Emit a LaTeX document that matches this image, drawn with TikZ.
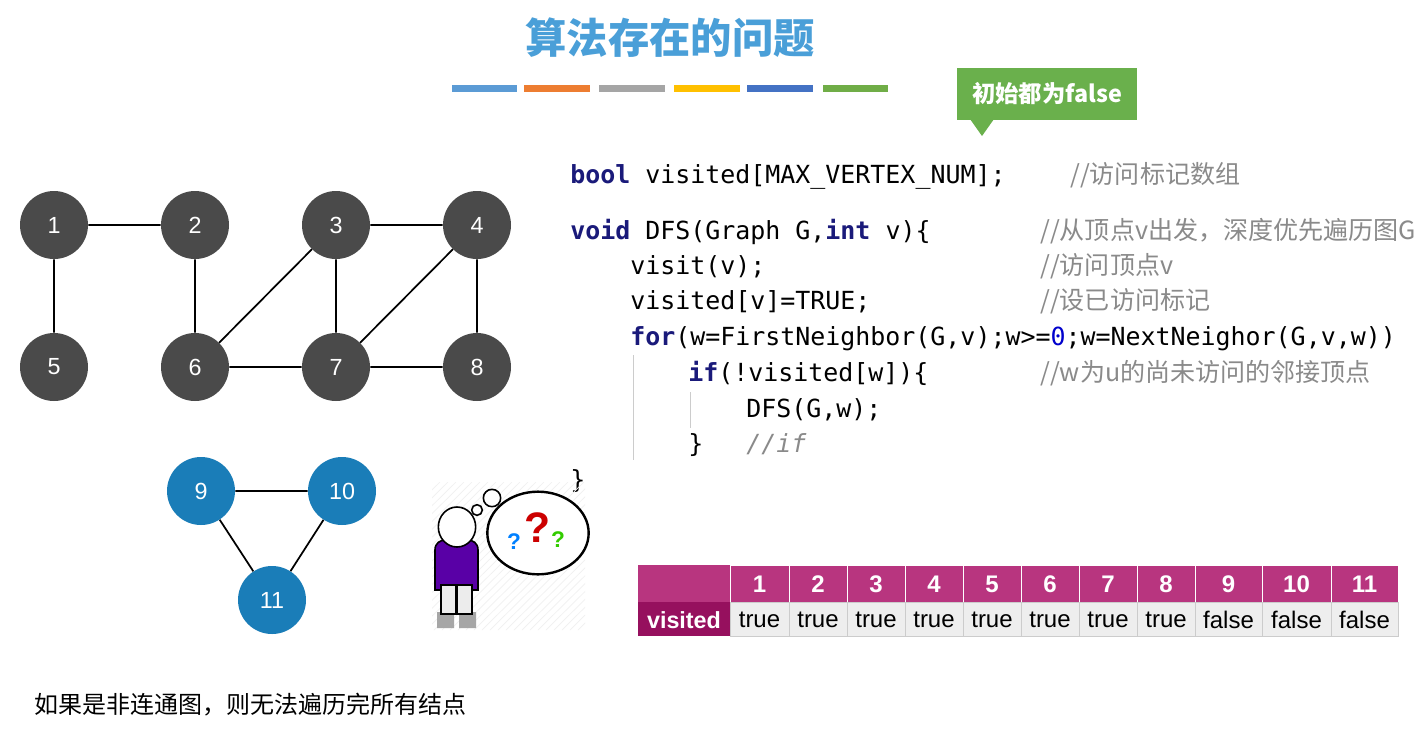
\documentclass[tikz,border=0pt]{standalone}
\usepackage{fontspec}
\setmainfont{Liberation Sans}
\newfontfamily\cjk{Noto Sans CJK SC}
\newfontfamily\mono{DejaVu Sans Mono}
\definecolor{gnode}{HTML}{4A4A4A}
\definecolor{bnode}{HTML}{1A7DB8}
\definecolor{ttl}{HTML}{4A9FD8}
\definecolor{kw}{HTML}{1A1A7A}
\definecolor{cmt}{HTML}{8A8A8A}
\definecolor{mag}{HTML}{B8357F}
\definecolor{magd}{HTML}{96105E}
\definecolor{cell}{HTML}{EEEEEE}
\definecolor{callg}{HTML}{6AB04C}
\begin{document}
\begin{tikzpicture}[x=0.75pt,y=-0.75pt,
  gv/.style={circle,fill=gnode,minimum size=51pt,inner sep=0,text=white,font=\fontsize{17.5}{17.5}\selectfont},
  bv/.style={gv,fill=bnode},
  ed/.style={line width=1.3pt,black},
  code/.style={anchor=base west,inner sep=0,font=\mono\fontsize{18.7}{20}\selectfont},
  cmtxt/.style={anchor=base west,inner sep=0,text=cmt,font=\cjk\fontsize{18.8}{20}\selectfont}]
\useasboundingbox (0,0) rectangle (1428,733);
\fill[white] (0,0) rectangle (1428,733);
% title
\node[text=ttl,font=\cjk\bfseries\fontsize{31}{32}\selectfont] (title) at (670,38) {算法存在的问题};
\foreach \a/\b/\c in {452/517/5B9BD5,524/590/ED7D31,599/665/A5A5A5,674/740/FFC000,747/813/4472C4,823/888/70AD47}{
  \definecolor{barc}{HTML}{\c}
  \fill[barc] (\a,85) rectangle (\b,92);}
% callout
\fill[callg] (957,68) rectangle (1137,120);
\fill[callg] (970,119) -- (982,136) -- (994,119) -- cycle;
\node[text=white,font=\cjk\bfseries\fontsize{17.5}{18}\selectfont] (call) at (1047,94) {初始都为false};
% graph
\node[gv] (n1) at (54,225) {1};
\node[gv] (n2) at (195,225) {2};
\node[gv] (n3) at (336,225) {3};
\node[gv] (n4) at (477,225) {4};
\node[gv] (n5) at (54,367) {5};
\node[gv] (n6) at (195,367) {6};
\node[gv] (n7) at (336,367) {7};
\node[gv] (n8) at (477,367) {8};
\draw[ed] (n1)--(n2) (n1)--(n5) (n2)--(n6) (n3)--(n4) (n3)--(n6) (n3)--(n7) (n4)--(n7) (n4)--(n8) (n6)--(n7) (n7)--(n8);
\node[bv] (n9) at (201,491) {9};
\node[bv] (n10) at (342,491) {10};
\node[bv] (n11) at (272,600) {11};
\draw[ed] (n9)--(n10) (n9)--(n11) (n10)--(n11);
% code
\node[code] (c1) at (570,183) {\textcolor{kw}{\bfseries bool} visited[MAX\_VERTEX\_NUM];};
\node[cmtxt] (m1) at (1070,183) {//访问标记数组};
\node[code] (c2) at (570,239) {\textcolor{kw}{\bfseries void} DFS(Graph G,\textcolor{kw}{\bfseries int} v)\{};
\node[cmtxt] (m2) at (1040,239) {//从顶点\textit{v}出发，深度优先遍历图\textit{G}};
\node[code] (c3) at (630,274) {visit(v);};
\node[cmtxt] (m3) at (1040,274) {//访问顶点\textit{v}};
\node[code] (c4) at (630,309) {visited[v]=TRUE;};
\node[cmtxt] (m4) at (1040,309) {//设已访问标记};
\node[code] (c5) at (630,345) {\textcolor{kw}{\bfseries for}(w=FirstNeighbor(G,v);w>=\textcolor{blue!80!black}{0};w=NextNeighor(G,v,w))};
\node[code] (c6) at (688,381) {\textcolor{kw}{\bfseries if}(!visited[w])\{};
\node[cmtxt] (m6) at (1040,381) {//\textit{w}为\textit{u}的尚未访问的邻接顶点};
\node[code] (c7) at (746,417) {DFS(G,w);};
\node[code] (c8) at (688,452) {\}};
\node[code,text=cmt] (m8) at (746,452) {\itshape //if};
\node[code] (c9) at (570,488) {\}};
\draw[gray!40,line width=0.6pt] (633,355)--(633,460) (690,392)--(690,428);
% person with thought bubble
\begin{scope}
\clip (432,482) rectangle (585,630);
\foreach \i in {0,8,...,300} \draw[gray!12,line width=0.5pt] (432+\i-150,630)--(432+\i,482);
\end{scope}
\fill[gray!70] (437,612) rectangle (454,628) (459,612) rectangle (476,628);
\draw[line width=1.2pt,fill=gray!15] (441,583) rectangle (456,614) (457,583) rectangle (472,614);
\draw[line width=1.2pt,fill=violet!70!blue] (435,550) .. controls (435,543) and (440,540) .. (446,540) -- (467,540) .. controls (473,540) and (478,543) .. (478,550) -- (478,590) -- (472,590) -- (472,585) -- (441,585) -- (441,590) -- (435,590) -- cycle;
\draw[line width=1.2pt,fill=white] (457,527) ellipse (14pt and 15pt);
\draw[line width=1.2pt,fill=white] (477,510) circle (4pt) (492,498) circle (6.5pt);
\draw[line width=1.8pt,fill=white] (538,533) ellipse (38pt and 31pt);
\node[text=red!80!black,font=\bfseries\fontsize{32}{32}\selectfont] (q1) at (538,528) {?};
\node[text=blue!50!cyan,font=\bfseries\fontsize{17}{17}\selectfont] (q2) at (514,542) {?};
\node[text=green!60!olive,font=\bfseries\fontsize{17}{17}\selectfont] (q3) at (558,540) {?};
% table
\fill[mag] (638,565) rectangle (1398,602);
\fill[magd] (638,602) rectangle (730,636);
\node[text=white,font=\bfseries\fontsize{17.5}{18}\selectfont] (vis) at (684,620) {visited};
\foreach \a/\b/\n/\v in {730/789/1/true,789/847/2/true,847/905/3/true,905/963/4/true,963/1021/5/true,1021/1079/6/true,1079/1137/7/true,1137/1195/8/true,1195/1262/9/false,1262/1331/10/false,1331/1398/11/false}{
  \draw[white,line width=0.6pt,fill=mag] (\a,565) rectangle (\b,602);
  \node[text=white,font=\bfseries\fontsize{18}{18}\selectfont] at ({(\a+\b)/2},584) {\n};
  \draw[gray!40,line width=0.6pt,fill=cell] (\a,602) rectangle (\b,636);
  \node[font=\fontsize{18}{18}\selectfont] at ({(\a+\b)/2},620) {\v};
}
% bottom text
\node[anchor=west,font=\cjk\fontsize{18}{20}\selectfont] (bt) at (30,705) {如果是非连通图，则无法遍历完所有结点};
\end{tikzpicture}
\end{document}
